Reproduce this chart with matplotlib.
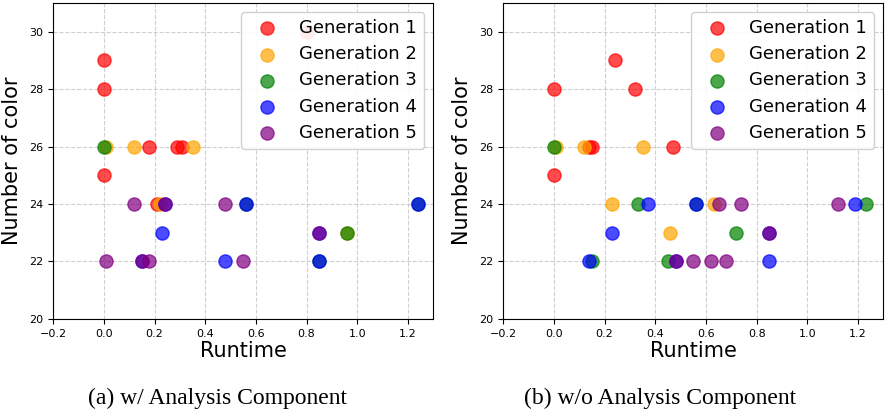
import matplotlib
matplotlib.use("Agg")
import matplotlib.pyplot as plt

# Panel (a): w/ Analysis Component
a_gen1_x = [0.0, 0.0, 0.8, 0.18, 0.29, 0.31, 0.0, 0.21]
a_gen1_y = [29, 28, 30, 26, 26, 26, 25, 24]
a_gen2_x = [0.01, 0.12, 0.35, 0.22, 0.96]
a_gen2_y = [26, 26, 26, 24, 23]
a_gen3_x = [0.0, 0.96, 0.56, 1.24, 0.85]
a_gen3_y = [26, 23, 24, 24, 22]
a_gen4_x = [0.56, 1.24, 0.85, 0.23, 0.48, 0.24, 0.15, 0.85]
a_gen4_y = [24, 24, 22, 23, 22, 24, 22, 23]
a_gen5_x = [0.01, 0.12, 0.24, 0.48, 0.15, 0.18, 0.55, 0.85]
a_gen5_y = [22, 24, 24, 24, 22, 22, 22, 23]

# Panel (b): w/o Analysis Component
b_gen1_x = [0.0, 0.24, 0.32, 0.14, 0.15, 0.47, 0.0]
b_gen1_y = [28, 29, 28, 26, 26, 26, 25]
b_gen2_x = [0.01, 0.12, 0.35, 0.23, 0.46, 0.63]
b_gen2_y = [26, 26, 26, 24, 23, 24]
b_gen3_x = [0.0, 0.33, 0.56, 1.23, 0.72, 0.15, 0.45]
b_gen3_y = [26, 24, 24, 24, 23, 22, 22]
b_gen4_x = [0.37, 0.56, 1.19, 0.23, 0.14, 0.85, 0.85, 0.48]
b_gen4_y = [24, 24, 24, 23, 22, 22, 23, 22]
b_gen5_x = [0.65, 0.74, 1.12, 0.85, 0.48, 0.55, 0.62, 0.68]
b_gen5_y = [24, 24, 24, 23, 22, 22, 22, 22]

labels = ['Generation 1', 'Generation 2', 'Generation 3', 'Generation 4', 'Generation 5']
colors = ['red', 'orange', 'green', 'blue', 'purple']
captions = ['(a) w/ Analysis Component', '(b) w/o Analysis Component']

panels = [
    [(a_gen1_x, a_gen1_y), (a_gen2_x, a_gen2_y), (a_gen3_x, a_gen3_y),
     (a_gen4_x, a_gen4_y), (a_gen5_x, a_gen5_y)],
    [(b_gen1_x, b_gen1_y), (b_gen2_x, b_gen2_y), (b_gen3_x, b_gen3_y),
     (b_gen4_x, b_gen4_y), (b_gen5_x, b_gen5_y)],
]

fig = plt.figure(figsize=(8.86, 4.12), dpi=100)
lefts = [0.060, 0.568]
caption_x = [0.246, 0.745]

for i, series in enumerate(panels):
    ax = fig.add_axes([lefts[i], 0.226, 0.429, 0.767])
    for (xs, ys), lab, col in zip(series, labels, colors):
        ax.scatter(xs, ys, s=90, color=col, alpha=0.7, label=lab)
    ax.set_xlim(-0.2, 1.3)
    ax.set_ylim(20, 31)
    ax.set_xticks([-0.2, 0.0, 0.2, 0.4, 0.6, 0.8, 1.0, 1.2])
    ax.set_yticks([20, 22, 24, 26, 28, 30])
    ax.tick_params(labelsize=8)
    ax.grid(True, linestyle='--', alpha=0.6)
    ax.set_axisbelow(True)
    ax.set_xlabel('Runtime', fontsize=15, labelpad=2)
    ax.set_ylabel('Number of color', fontsize=15, labelpad=5)
    leg = ax.legend(loc='upper right', fontsize=13, labelspacing=0.45,
                    framealpha=0.9)
    leg.set_zorder(10)
    fig.text(caption_x[i], 0.008, captions[i], ha='center', va='bottom',
             fontsize=17, family='Liberation Serif')

fig.savefig('out.png', dpi=100, facecolor='white')
